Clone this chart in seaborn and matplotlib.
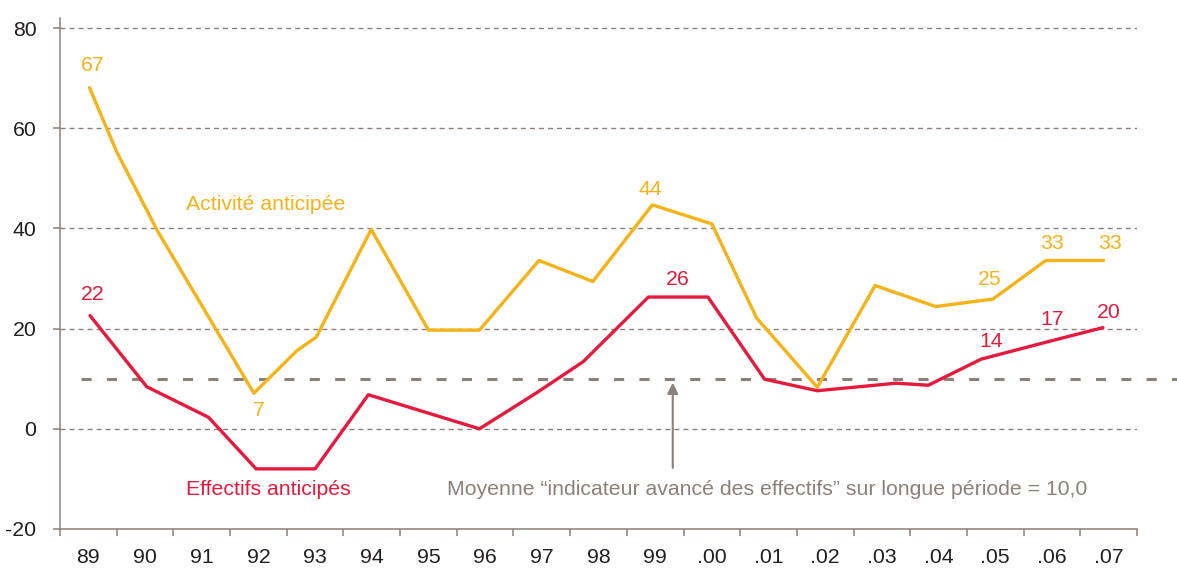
import numpy as np
import pandas as pd
import matplotlib
matplotlib.use("Agg")
import matplotlib.pyplot as plt
import seaborn as sns

# ---------------- data ----------------
categories = ["89", "90", "91", "92", "93", "94", "95", "96", "97", "98", "99",
              ".00", ".01", ".02", ".03", ".04", ".05", ".06", ".07"]

# position in years since 1989 (category index) and value
activite_t = [0.02, 0.5, 1.21, 2.92, 3.68, 4.02, 4.99, 6.0, 6.9, 7.95, 8.9,
              9.95, 11.0, 11.79, 12.86, 13.88, 14.95, 15.96, 16.89, 17.91]
activite_v = [68.1, 55.3, 39.7, 7.1, 15.6, 18.3, 39.8, 19.7, 19.7, 33.6, 29.4,
              44.7, 40.9, 22.1, 8.3, 28.6, 24.4, 25.9, 33.6, 33.6]

effectifs_t = [0.03, 1.03, 2.12, 2.96, 4.0, 4.94, 6.9, 7.91, 8.73, 9.88, 10.93,
               11.93, 12.86, 14.25, 14.82, 15.75, 16.9, 17.9]
effectifs_v = [22.6, 8.4, 2.3, -8.0, -8.0, 6.8, 0.0, 7.2, 13.4, 26.3, 26.3,
               9.9, 7.6, 9.1, 8.7, 13.9, 17.3, 20.2]

moyenne = 10.0

# value labels: (text, series, point index)
labels_text = ["67", "22", "7", "44", "26", "25", "33", "33", "14", "17", "20"]
labels_series = ["A", "E", "A", "A", "E", "A", "A", "A", "E", "E", "E"]
labels_index = [0, 0, 3, 11, 9, 17, 18, 19, 15, 16, 17]
# label offsets from their point, in pixels (dx, dy)
labels_offset = [(3.5, 22.5), (3, 21.5), (5, -17), (-2, 15.5), (29.5, 18),
                 (-3, 20), (6, 17), (6, 17), (10, 17.6), (5.5, 22.5), (6, 15)]

# ---------------- style ----------------
YELLOW = "#F6B318"
RED = "#E51A3D"
GREY = "#8C807B"
TXT = "#231F20"
FS = 15.3

sns.set_style("white")
plt.rcParams["font.family"] = ["Liberation Sans", "DejaVu Sans"]
plt.rcParams["axes.unicode_minus"] = False

fig = plt.figure(figsize=(11.77, 5.68), dpi=100)
ax = fig.add_axes([60 / 1177, 1 - 529 / 568, (1137 - 60) / 1177, (529 - 18) / 568])

df = pd.concat([
    pd.DataFrame({"t": activite_t, "v": activite_v, "serie": "Activité anticipée"}),
    pd.DataFrame({"t": effectifs_t, "v": effectifs_v, "serie": "Effectifs anticipés"}),
], ignore_index=True)

sns.lineplot(data=df, x="t", y="v", hue="serie",
             palette={"Activité anticipée": YELLOW, "Effectifs anticipés": RED},
             estimator=None, sort=False, lw=2.4, legend=False, ax=ax, zorder=3)

ax.set_xlim(-0.5, 18.5)
ax.set_ylim(-20, 82)
ax.set_xlabel("")
ax.set_ylabel("")

# ticks
ax.set_xticks(range(len(categories)))
ax.set_xticklabels(categories)
ax.set_xticks(np.arange(-0.5, len(categories), 1.0), minor=True)
ax.tick_params(axis="x", which="major", bottom=True, length=0, pad=14,
               labelsize=FS, labelcolor=TXT)
ax.tick_params(axis="x", which="minor", bottom=True, length=5, width=1.1,
               color=GREY, direction="out")
ax.set_yticks([-20, 0, 20, 40, 60, 80])
ax.tick_params(axis="y", left=True, length=5, width=1.1, color=GREY,
               direction="out", pad=12, labelsize=FS, labelcolor=TXT)

# spines
for s in ["top", "right"]:
    ax.spines[s].set_visible(False)
for s in ["left", "bottom"]:
    ax.spines[s].set_color(GREY)
    ax.spines[s].set_linewidth(1.1)

# grid
ax.xaxis.grid(False)
ax.yaxis.grid(True, color=GREY, lw=1.0, linestyle=(0, (3.6, 2.9)))
ax.set_axisbelow(True)

# long-term mean line
ax.axhline(moyenne, xmin=0.0195, xmax=1.037, color=GREY, lw=2.2,
           linestyle=(0, (3.3, 5.0)), clip_on=False, zorder=2)

# value labels
series_data = {"A": (activite_t, activite_v, YELLOW), "E": (effectifs_t, effectifs_v, RED)}
for txt, ser, idx, (dx, dy) in zip(labels_text, labels_series, labels_index, labels_offset):
    tt, vv, col = series_data[ser]
    ax.annotate(txt, xy=(tt[idx], vv[idx]), xytext=(dx, dy), textcoords="offset pixels",
                ha="center", va="center", color=col, fontsize=FS)

# series names
ax.text(3.125, 43.6, "Activité anticipée", color=YELLOW, fontsize=FS,
        ha="center", va="baseline")
ax.text(3.18, -13.2, "Effectifs anticipés", color=RED, fontsize=FS,
        ha="center", va="baseline")

# mean annotation
ax.text(11.97, -13.3, "Moyenne \u201cindicateur avancé des effectifs\u201d sur longue période = 10,0",
        color=GREY, fontsize=FS, ha="center", va="baseline")
ax.annotate("", xy=(10.31, 9.2), xytext=(10.31, -7.8),
            arrowprops=dict(arrowstyle="-|>", color=GREY, lw=1.5,
                            mutation_scale=16, shrinkA=0, shrinkB=0))

fig.savefig("out.png", dpi=100)
